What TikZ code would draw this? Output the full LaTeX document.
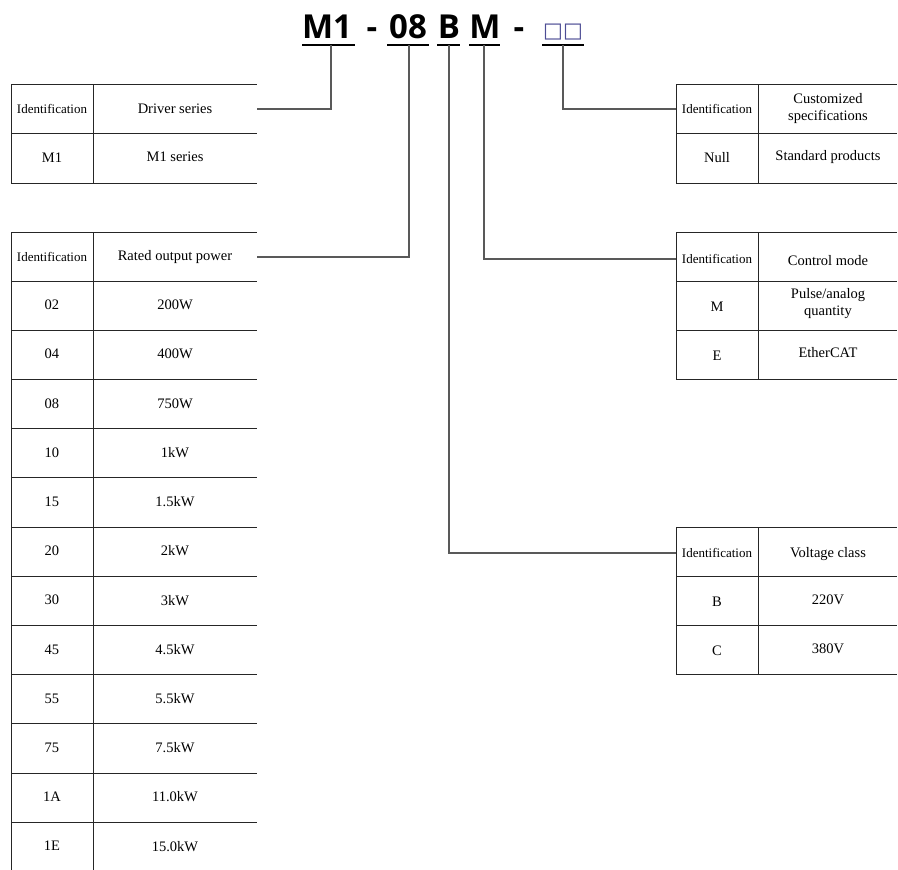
\documentclass[tikz,border=0pt]{standalone}
\usepackage{fontspec}
\setmainfont{Liberation Serif}
\newfontfamily\titlefont{Open Sans}
\newfontfamily\symfont{DejaVu Sans}
\begin{document}
\begin{tikzpicture}[x=1pt,y=-1pt,
  tbl/.style={draw=black!85, line width=0.9pt},
  conn/.style={draw=black!65, line width=1.2pt},
  ttl/.style={anchor=base, inner sep=0pt, font=\titlefont\bfseries\fontsize{33}{36}\selectfont},
  uline/.style={draw=black, line width=1.6pt},
  cell/.style={inner sep=0pt, align=center, font=\fontsize{14.5}{17}\selectfont},
  idcell/.style={inner sep=0pt, align=center, font=\fontsize{13}{15}\selectfont},
]
\useasboundingbox (0,0) rectangle (898,870);
% ---------- title ----------
\node[ttl] (tm1) at (327,38) {M1};
\node[ttl] (td1) at (372,38) {-};
\node[ttl] (t08) at (408,38) {08};
\node[ttl] (tb)  at (449,38) {B};
\node[ttl] (tm)  at (485,38) {M};
\node[ttl] (td2) at (519,38) {-};
\node[anchor=base, inner sep=0pt, text=black!60!blue!70, font=\symfont\fontsize{21}{24}\selectfont] (tsq) at (563,37) {□□};
\coordinate (u1) at (331,45);
\coordinate (u2) at (409,45);
\coordinate (u3) at (449,45);
\coordinate (u4) at (484,45);
\coordinate (u5) at (563,45);
\draw[uline] (302,45) -- (355,45);
\draw[uline] (387,45) -- (429,45);
\draw[uline] (437,45) -- (460,45);
\draw[uline] (469,45) -- (500,45);
\draw[uline] (542,45) -- (584,45);

% ---------- table 1: driver series ----------
\draw[tbl] (11,84) -- (11,183) (93,84) -- (93,183);
\foreach \y in {84,133,183} \draw[tbl] (11,\y) -- (257,\y);
\node[idcell] (t1a) at (52,109) {Identification};
\node[cell, minimum width=164pt, minimum height=49pt] (t1b) at (175,109) {Driver series};
\node[cell] (t1c) at (52,158) {M1};
\node[cell] (t1d) at (175,157) {M1 series};

% ---------- table 2: rated output power ----------
\draw[tbl] (11,232) -- (11,870) (93,232) -- (93,870);
\draw[tbl] (11,232) -- (257,232);
\draw[tbl] (11,281) -- (257,281);
\foreach \i in {1,...,11} \draw[tbl] (11,{281+\i*49.2}) -- (257,{281+\i*49.2});
\node[idcell] (t2a) at (52,257) {Identification};
\node[cell, minimum width=164pt, minimum height=49pt] (t2b) at (175,257) {Rated output power};
\foreach \i/\c/\v in {0/02/200W,1/04/400W,2/08/750W,3/10/1kW,4/15/1.5kW,5/20/2kW,6/30/3kW,7/45/4.5kW,8/55/5.5kW,9/75/7.5kW,10/1A/11.0kW,11/1E/15.0kW}{
  \node[cell] (p\i a) at (52,{305+\i*49.2}) {\c};
  \node[cell] (p\i b) at (175,{305+\i*49.2}) {\v};
}

% ---------- table 3: customized ----------
\draw[tbl] (676,84) -- (676,183) (758,84) -- (758,183);
\foreach \y in {84,133,183} \draw[tbl] (676,\y) -- (897,\y);
\node[idcell, minimum width=82pt, minimum height=49pt] (t3a) at (717,109) {Identification};
\node[cell] (t3b) at (828,109) {Customized\\specifications};
\node[cell] (t3c) at (717,158) {Null};
\node[cell] (t3d) at (828,157) {Standard products};

% ---------- table 4: control mode ----------
\draw[tbl] (676,232) -- (676,379) (758,232) -- (758,379);
\foreach \y in {232,281,330,379} \draw[tbl] (676,\y) -- (897,\y);
\node[idcell, minimum width=82pt, minimum height=49pt] (t4a) at (717,259) {Identification};
\node[cell] (t4b) at (828,261) {Control mode};
\node[cell] (t4c) at (717,307) {M};
\node[cell] (t4d) at (828,304) {Pulse/analog\\quantity};
\node[cell] (t4e) at (717,356) {E};
\node[cell] (t4f) at (828,353) {EtherCAT};

% ---------- table 5: voltage class ----------
\draw[tbl] (676,527) -- (676,674) (758,527) -- (758,674);
\foreach \y in {527,576,625,674} \draw[tbl] (676,\y) -- (897,\y);
\node[idcell, minimum width=82pt, minimum height=49pt] (t5a) at (717,553) {Identification};
\node[cell] (t5b) at (828,554) {Voltage class};
\node[cell] (t5c) at (717,602) {B};
\node[cell] (t5d) at (828,600) {220V};
\node[cell] (t5e) at (717,651) {C};
\node[cell] (t5f) at (828,649) {380V};

% ---------- connectors ----------
\draw[conn] (t1b.east) -| (u1);
\draw[conn] (t2b.east) -| (u2);
\draw[conn] (t5a.west) -| (u3);
\draw[conn] (t4a.west) -| (u4);
\draw[conn] (t3a.west) -| (u5);
\end{tikzpicture}
\end{document}
